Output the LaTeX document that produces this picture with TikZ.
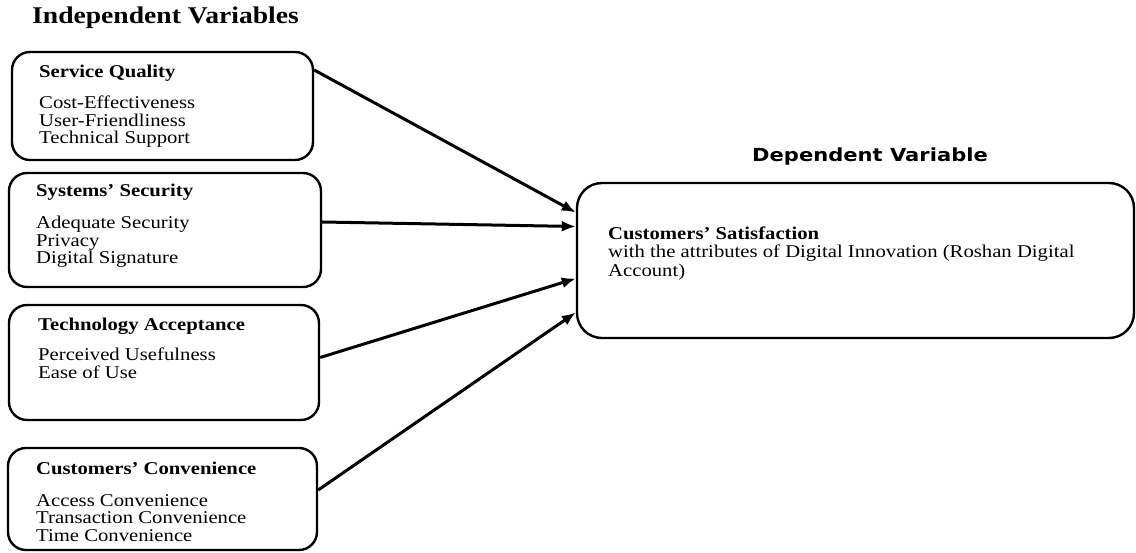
\documentclass[tikz,border=0pt]{standalone}
\usepackage{fontspec}
\setmainfont{Liberation Serif}[FakeStretch=1.15]
\newfontfamily\depfont{DejaVu Sans}[FakeStretch=1.17]
\usepackage{tikz}
\usetikzlibrary{arrows.meta,positioning}

\begin{document}
\begin{tikzpicture}[x=1pt,y=-1pt]
  \tikzset{
    box/.style={draw=black, line width=2.4pt, rounded corners=18pt, inner sep=0pt},
    hdr/.style={font=\fontsize{18}{17.5}\selectfont\bfseries, inner sep=0pt, anchor=base west},
    item/.style={font=\fontsize{18}{17.5}\selectfont, inner sep=0pt, anchor=base west, align=left},
    link/.style={-{Latex[length=14pt,width=11pt]}, black, line width=3pt}
  }
  \useasboundingbox (0,0) rectangle (1136,553);

  % headings
  \node[font=\fontsize{24}{26}\selectfont\bfseries, inner sep=0pt, anchor=base west] (indep) at (32,24) {Independent Variables};
  \node[font=\fontsize{18}{20}\selectfont\depfont\bfseries, inner sep=0pt, anchor=base west] (dep) at (752,162) {Dependent Variable};

  % independent variable boxes (item nodes sit on the baseline of their last line)
  \node[box, minimum width=301pt, minimum height=108pt] (qual) at (162.5,106) {};
  \node[hdr] (qualT) at (39,78) {Service Quality};
  \node[item] (qualL) at (39,144) {Cost-Effectiveness\\User-Friendliness\\Technical Support};

  \node[box, minimum width=312pt, minimum height=114pt] (sec) at (165,230) {};
  \node[hdr] (secT) at (36,197) {Systems' Security};
  \node[item] (secL) at (36,264) {Adequate Security\\Privacy\\Digital Signature};

  \node[box, minimum width=310pt, minimum height=115pt] (accept) at (164,362.5) {};
  \node[hdr] (acceptT) at (38,331) {Technology Acceptance};
  \node[item] (acceptL) at (38,378.5) {Perceived Usefulness\\Ease of Use};

  \node[box, minimum width=309pt, minimum height=102pt] (conv) at (162.5,499) {};
  \node[hdr] (convT) at (36,474) {Customers' Convenience};
  \node[item] (convL) at (36,541) {Access Convenience\\Transaction Convenience\\Time Convenience};

  % dependent variable box
  \node[box, rounded corners=25pt, minimum width=557pt, minimum height=155pt] (sat) at (855.5,260.5) {};
  \node[hdr] (satT) at (608,240) {Customers' Satisfaction};
  \node[item, font=\fontsize{18}{18.5}\selectfont] (satL) at (608,276.5) {with the attributes of Digital Innovation (Roshan Digital\\Account)};

  % links
  \draw[link] ([yshift=36pt]qual.east) -- ([yshift=48pt]sat.west);
  \draw[link] ([yshift=8pt]sec.east) -- ([yshift=34pt]sat.west);
  \draw[link] ([yshift=5pt]accept.east) -- ([yshift=-18pt]sat.west);
  \draw[link] ([yshift=9pt]conv.east) -- ([yshift=-52pt]sat.west);

\end{tikzpicture}
\end{document}
